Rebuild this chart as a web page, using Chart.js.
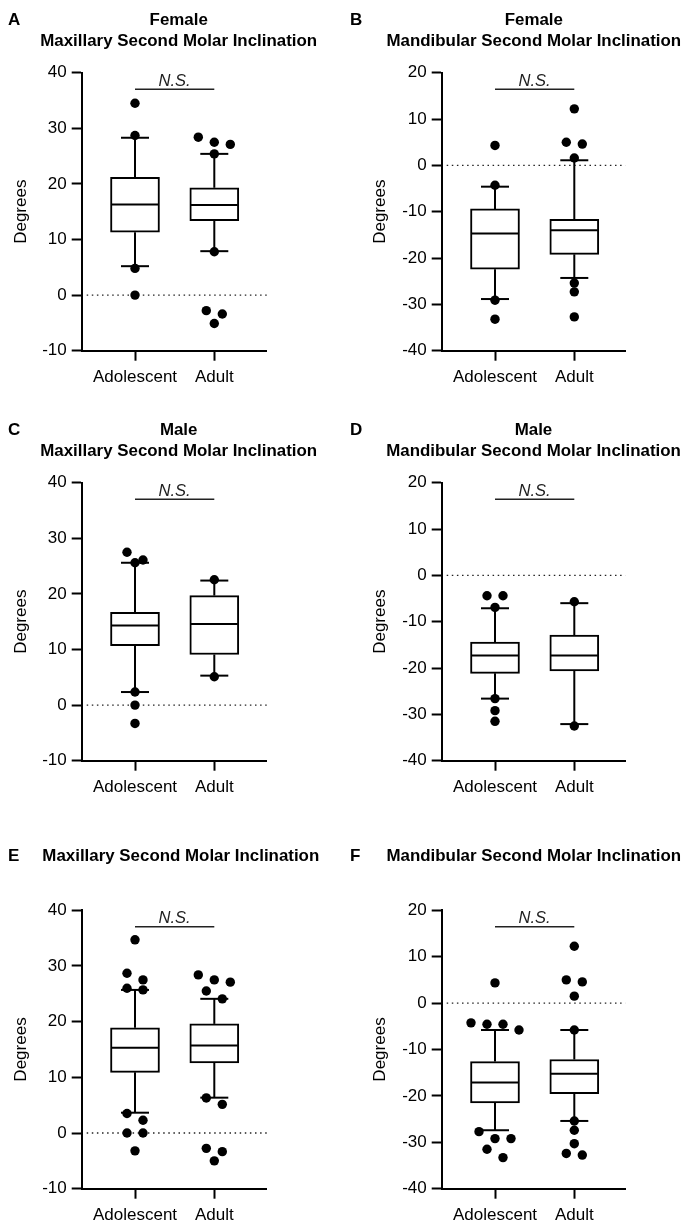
<!DOCTYPE html>
<html><head><meta charset="utf-8">
<script src="https://cdn.jsdelivr.net/npm/chart.js@4/dist/chart.umd.min.js"></script>
<style>
html,body{margin:0;padding:0;background:#fff;}
body{width:692px;height:1231px;position:relative;overflow:hidden;font-family:'Liberation Sans',Arial,sans-serif;color:#000;}
canvas{position:absolute;}
.letter{position:absolute;font-weight:bold;font-size:17px;line-height:21px;}
.title{position:absolute;font-weight:bold;font-size:16.9px;line-height:21px;text-align:center;white-space:nowrap;transform:translateX(-50%);}
</style></head><body>
<script>
// ---------------- DATA ----------------
const categories = ['Adolescent', 'Adult'];
const maxillaryTicks = [-10, 0, 10, 20, 30, 40];
const mandibularTicks = [-40, -30, -20, -10, 0, 10, 20];

// Five-number summaries per category: [lower whisker, Q1, median, Q3, upper whisker]
const femaleMaxStats = [[5.2, 11.3, 16.3, 21.2, 28.3], [7.9, 13.4, 16.2, 19.3, 25.4]];
const femaleMaxPoints = [[34.5, 28.7, 4.8, 0], [28.4, 27.5, 27.1, 25.4, 7.8, -2.8, -3.4, -5.1]];

const femaleManStats = [[-28.85, -22.4, -14.7, -9.4, -4.6], [-24.3, -19.2, -14.0, -11.65, 1.1]];
const femaleManPoints = [[4.3, -4.3, -29.1, -33.2], [12.2, 5.0, 4.6, 1.6, -25.4, -27.3, -32.7]];

const maleMaxStats = [[2.35, 10.7, 14.3, 16.7, 25.6], [5.3, 9.1, 14.6, 19.7, 22.4]];
const maleMaxPoints = [[27.5, 26.1, 25.6, 2.35, 0, -3.3], [22.55, 5.1]];

const maleManStats = [[-26.6, -21.15, -17.3, -14.4, -7.1], [-32.1, -20.6, -17.3, -12.9, -6.0]];
const maleManPoints = [[-4.4, -4.4, -6.9, -26.6, -29.2, -31.5], [-5.7, -32.5]];

const allMaxStats = [[3.65, 10.9, 15.3, 18.9, 25.7], [6.35, 12.6, 15.7, 19.6, 24.1]];
const allMaxPoints = [[34.7, 28.7, 27.5, 26.0, 25.7, 3.5, 2.3, 0, 0, -3.2], [28.4, 27.5, 27.1, 25.5, 24.1, 6.3, 5.15, -2.75, -3.35, -5.0]];

const allManStats = [[-27.4, -21.5, -17.1, -12.6, -5.8], [-25.4, -19.5, -15.2, -12.15, -5.8]];
const allManPoints = [[4.35, -4.26, -4.55, -4.55, -5.8, -27.7, -29.2, -29.2, -31.5, -33.3], [12.25, 5.0, 4.57, 1.5, -5.8, -25.4, -27.4, -30.3, -32.4, -32.75]];

const panelLetters = ['A', 'B', 'C', 'D', 'E', 'F'];
const panelTitles = [
  ['Female', 'Maxillary Second Molar Inclination'],
  ['Female', 'Mandibular Second Molar Inclination'],
  ['Male', 'Maxillary Second Molar Inclination'],
  ['Male', 'Mandibular Second Molar Inclination'],
  ['Maxillary Second Molar Inclination'],
  ['Mandibular Second Molar Inclination']
];
const yAxisTitle = 'Degrees';
const significanceLabel = 'N.S.';

// ---------------- LAYOUT (pixels) ----------------
const FONT = "'Liberation Sans', Arial, sans-serif";
const layout = [
  {x:0,   y:0,   w:346, h:410, pl:81.7, pt:72.7, pr:266.7, pb:350.7, yTitlePad:11.5, tcx:178.7, ttop:8.5,   lx:8},
  {x:346, y:0,   w:346, h:410, pl:95.7, pt:72.7, pr:279.3, pb:350.7, yTitlePad:24.1, tcx:533.8, ttop:8.5,   lx:350},
  {x:0,   y:410, w:346, h:420, pl:81.7, pt:72.7, pr:266.7, pb:350.7, yTitlePad:11.5, tcx:178.7, ttop:418.5, lx:8},
  {x:346, y:410, w:346, h:420, pl:95.7, pt:72.7, pr:279.3, pb:350.7, yTitlePad:24.1, tcx:533.5, ttop:418.5, lx:350},
  {x:0,   y:830, w:346, h:401, pl:81.7, pt:80.3, pr:266.7, pb:358.7, yTitlePad:11.5, tcx:180.8, ttop:845.2, lx:8},
  {x:346, y:830, w:346, h:401, pl:95.7, pt:80.3, pr:279.3, pb:358.7, yTitlePad:24.1, tcx:533.8, ttop:845.2, lx:350}
];
const panelStats = [femaleMaxStats, femaleManStats, maleMaxStats, maleManStats, allMaxStats, allManStats];
const panelPoints = [femaleMaxPoints, femaleManPoints, maleMaxPoints, maleManPoints, allMaxPoints, allManPoints];
const panelTicks = [maxillaryTicks, mandibularTicks, maxillaryTicks, mandibularTicks, maxillaryTicks, mandibularTicks];

const CAT_OFFSET_PX = 53.3, CAT_STEP_PX = 79.3;
const BOX_W = 49, CAP_W = 28, DOT_R = 4.7, SWARM_STEP_PX = 16, ROW_PX = 8.6;

// beeswarm rows: points closer than ROW_PX vertically share a row and are spread symmetrically
function swarm(values, pxPerUnit) {
  const s = values.slice().sort((a, b) => b - a);
  const rows = [];
  s.forEach(v => {
    const r = rows[rows.length - 1];
    if (r && (r[0] - v) * pxPerUnit < ROW_PX) r.push(v); else rows.push([v]);
  });
  const out = [];
  rows.forEach(r => r.forEach((v, i) => out.push({v: v, slot: i - (r.length - 1) / 2})));
  return out;
}

const boxExtras = {
  id: 'boxExtras',
  beforeDatasetsDraw(chart) {
    const {ctx, chartArea, scales: {y}} = chart;
    const y0 = y.getPixelForValue(0);
    ctx.save();
    ctx.strokeStyle = '#222';
    ctx.lineWidth = 1.4;
    ctx.setLineDash([1.5, 3.6]);
    ctx.beginPath();
    ctx.moveTo(chartArea.left + 5, y0);
    ctx.lineTo(chartArea.right, y0);
    ctx.stroke();
    ctx.restore();
  },
  afterDatasetsDraw(chart, args, opts) {
    const {ctx, scales: {x, y}} = chart;
    ctx.save();
    ctx.strokeStyle = '#000';
    ctx.lineWidth = 2;
    ctx.lineCap = 'butt';
    const seg = (x1, y1, x2, y2) => { ctx.beginPath(); ctx.moveTo(x1, y1); ctx.lineTo(x2, y2); ctx.stroke(); };
    opts.stats.forEach((s, i) => {
      const cx = x.getPixelForValue(i + 1);
      const lo = y.getPixelForValue(s[0]), q1 = y.getPixelForValue(s[1]), md = y.getPixelForValue(s[2]),
            q3 = y.getPixelForValue(s[3]), hi = y.getPixelForValue(s[4]);
      seg(cx, q3, cx, hi);
      seg(cx, q1, cx, lo);
      seg(cx - CAP_W / 2, hi, cx + CAP_W / 2, hi);
      seg(cx - CAP_W / 2, lo, cx + CAP_W / 2, lo);
      seg(cx - BOX_W / 2 + 1, md, cx + BOX_W / 2 - 1, md);
    });
    ctx.restore();
  },
  afterDraw(chart, args, opts) {
    const {ctx, chartArea, scales: {x}} = chart;
    const yy = chartArea.top + 16.5;
    const x1 = x.getPixelForValue(1), x2 = x.getPixelForValue(2);
    ctx.save();
    ctx.strokeStyle = '#222';
    ctx.lineWidth = 1.5;
    ctx.beginPath(); ctx.moveTo(x1, yy); ctx.lineTo(x2, yy); ctx.stroke();
    ctx.fillStyle = '#222';
    ctx.font = 'italic 16.5px ' + FONT;
    ctx.textAlign = 'center';
    ctx.textBaseline = 'alphabetic';
    ctx.fillText(opts.label, (x1 + x2) / 2, yy - 3.5);
    ctx.restore();
  }
};

function makePanel(i) {
  const L = layout[i], stats = panelStats[i], pts = panelPoints[i], ticks = panelTicks[i];
  const yMin = ticks[0], yMax = ticks[ticks.length - 1];
  const plotW = L.pr - L.pl, plotH = L.pb - L.pt;
  const xMin = 1 - CAT_OFFSET_PX / CAT_STEP_PX;
  const xMax = xMin + plotW / CAT_STEP_PX;
  const pxY = plotH / (yMax - yMin);

  const scatterData = [];
  pts.forEach((vals, c) => {
    swarm(vals, pxY).forEach(p => scatterData.push({x: c + 1 + p.slot * SWARM_STEP_PX / CAT_STEP_PX, y: p.v}));
  });
  const boxData = stats.map((s, c) => ({x: c + 1, y: [s[1], s[3]]}));

  const cv = document.createElement('canvas');
  cv.width = L.w; cv.height = L.h;
  cv.style.left = L.x + 'px'; cv.style.top = L.y + 'px';
  document.body.appendChild(cv);

  const tickFont = {family: FONT, size: 17};
  const axisGrid = {display: true, drawOnChartArea: false, drawTicks: true, tickLength: 10, tickWidth: 2, tickColor: '#000', offset: false};
  const axisBorder = {display: true, color: '#000', width: 2};

  new Chart(cv, {
    type: 'bar',
    data: {
      datasets: [
        {type: 'scatter', data: scatterData, pointRadius: DOT_R, pointBackgroundColor: '#000', pointBorderWidth: 0, showLine: false, order: 0},
        {type: 'bar', data: boxData, backgroundColor: '#fff', borderColor: '#000', borderWidth: 2, borderSkipped: false, barThickness: BOX_W, grouped: false, order: 1}
      ]
    },
    options: {
      responsive: false,
      animation: false,
      events: [],
      layout: {padding: {left: 0, top: L.pt, right: L.w - L.pr, bottom: 0}},
      plugins: {
        legend: {display: false},
        tooltip: {enabled: false},
        boxExtras: {stats: stats, label: significanceLabel}
      },
      scales: {
        x: {
          type: 'linear', min: xMin, max: xMax, offset: false,
          afterBuildTicks: sc => { sc.ticks = categories.map((_, k) => ({value: k + 1})); },
          afterFit: sc => { sc.height = L.h - L.pb; },
          ticks: {callback: v => categories[Math.round(v) - 1], font: tickFont, color: '#000', padding: 6, autoSkip: false, maxRotation: 0},
          grid: axisGrid, border: axisBorder
        },
        y: {
          type: 'linear', min: yMin, max: yMax,
          afterBuildTicks: sc => { sc.ticks = ticks.map(v => ({value: v})); },
          afterFit: sc => { sc.width = L.pl; },
          ticks: {callback: v => String(v), font: tickFont, color: '#000', padding: 5},
          grid: axisGrid, border: axisBorder,
          title: {display: true, text: yAxisTitle, font: tickFont, color: '#000', padding: {top: L.yTitlePad, bottom: 0}}
        }
      }
    },
    plugins: [boxExtras]
  });

  const t = document.createElement('div');
  t.className = 'title';
  t.style.left = L.tcx + 'px'; t.style.top = L.ttop + 'px';
  t.innerHTML = panelTitles[i].map(s => '<div>' + s + '</div>').join('');
  document.body.appendChild(t);
  const lt = document.createElement('div');
  lt.className = 'letter';
  lt.style.left = L.lx + 'px'; lt.style.top = L.ttop + 'px';
  lt.textContent = panelLetters[i];
  document.body.appendChild(lt);
}

for (let i = 0; i < 6; i++) makePanel(i);
</script>
</body></html>
